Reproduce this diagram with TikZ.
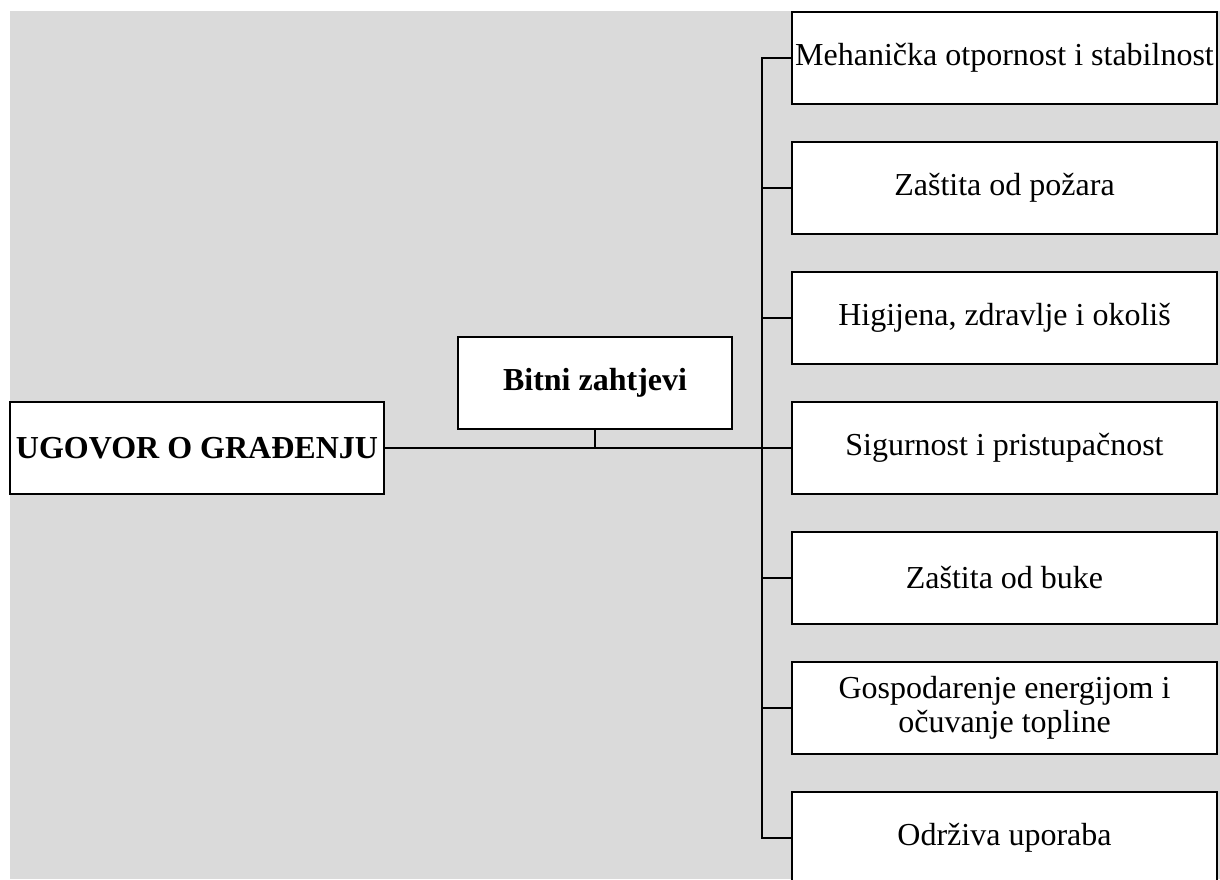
\documentclass[tikz,border=0pt]{standalone}
\usepackage{fontspec}
\setmainfont{Liberation Serif}
\definecolor{bggray}{RGB}{218,218,218}

\begin{document}
\begin{tikzpicture}[x=0.5pt,y=-0.5pt,inner sep=0pt,outer sep=0pt,line width=1.4pt,
reqbox/.style={draw,rectangle,fill=white,minimum width=212.5pt,minimum height=46pt,align=center,font=\fontsize{16}{17}\selectfont},
mainbox/.style={draw,rectangle,fill=white,minimum height=46pt,font=\fontsize{16}{18}\selectfont\bfseries}]

\clip (0,0) rectangle (1220,879);
\fill[bggray] (10,11) rectangle (1220,879);

\draw (197,448) node[mainbox,minimum width=187pt] (ugovor) {UGOVOR O GRAĐENJU};
\draw (595,383) node[mainbox,minimum width=137pt] (bitni) {Bitni zahtjevi};

\draw (1004.5,58) node[reqbox] (z1) {Mehanička otpornost i stabilnost};
\draw (1004.5,188) node[reqbox] (z2) {Zaštita od požara};
\draw (1004.5,318) node[reqbox] (z3) {Higijena, zdravlje i okoliš};
\draw (1004.5,448) node[reqbox] (z4) {Sigurnost i pristupačnost};
\draw (1004.5,578) node[reqbox] (z5) {Zaštita od buke};
\draw (1004.5,708) node[reqbox] (z6) {Gospodarenje energijom i\\očuvanje topline};
\draw (1004.5,838) node[reqbox] (z7) {Održiva uporaba};

\coordinate (spinetop) at (762,58);
\coordinate (spinebot) at (762,838);

\draw (ugovor.east) -- (z4.west);
\draw (bitni.south) -- (bitni.south |- ugovor.east);
\draw (z1.west) -- (spinetop) -- (spinebot) -- (z7.west);
\draw (z2.west) -- (z2.west -| spinetop);
\draw (z3.west) -- (z3.west -| spinetop);
\draw (z5.west) -- (z5.west -| spinetop);
\draw (z6.west) -- (z6.west -| spinetop);
\end{tikzpicture}
\end{document}
